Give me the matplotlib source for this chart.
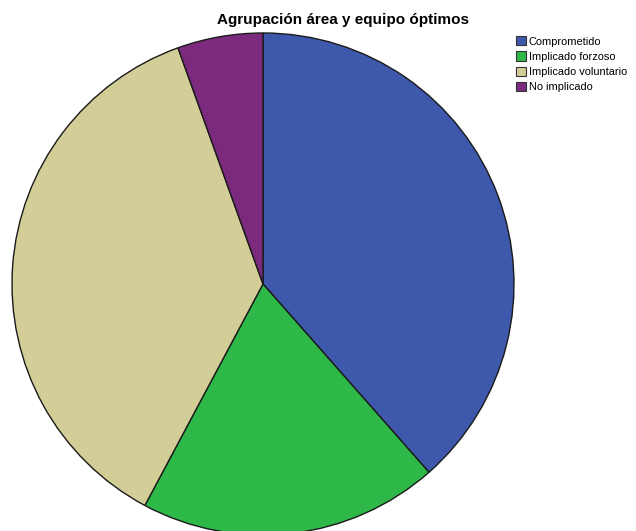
import matplotlib
matplotlib.use("Agg")
import matplotlib.pyplot as plt
from matplotlib.patches import Patch

categories = ["Comprometido", "Implicado forzoso", "Implicado voluntario", "No implicado"]
percentages = [38.5, 19.3, 36.7, 5.5]
colors = ["#3E58AC", "#2EB848", "#D3CE97", "#7B2A7E"]

W, H = 636, 531
cx, cy, r = 263, 284, 251

fig = plt.figure(figsize=(W / 100, H / 100), dpi=100)
ax = fig.add_axes([0, 0, 1, 1])
ax.pie(percentages, colors=colors, startangle=90, counterclock=False,
       wedgeprops=dict(edgecolor="#1a1a1a", linewidth=1.0))
ax.set_xlim(-cx / r, (W - cx) / r)
ax.set_ylim((cy - H) / r, cy / r)
ax.set_aspect("equal")
ax.axis("off")

fig.text(343 / W, 1 - 20 / H, "Agrupación área y equipo óptimos",
         ha="center", va="center", fontsize=11, fontweight="bold",
         family="Liberation Sans")

handles = [Patch(facecolor=c, edgecolor="#333333", linewidth=0.8) for c in colors]
fig.legend(handles, categories, loc="upper left",
           bbox_to_anchor=(514 / W, 1 - 34 / H), frameon=False,
           prop=dict(family="Liberation Sans", size=7.9),
           handlelength=0.9, handleheight=0.9, handletextpad=0.25,
           labelspacing=0.45, borderpad=0.2, borderaxespad=0)

fig.savefig("out.png", dpi=100)
